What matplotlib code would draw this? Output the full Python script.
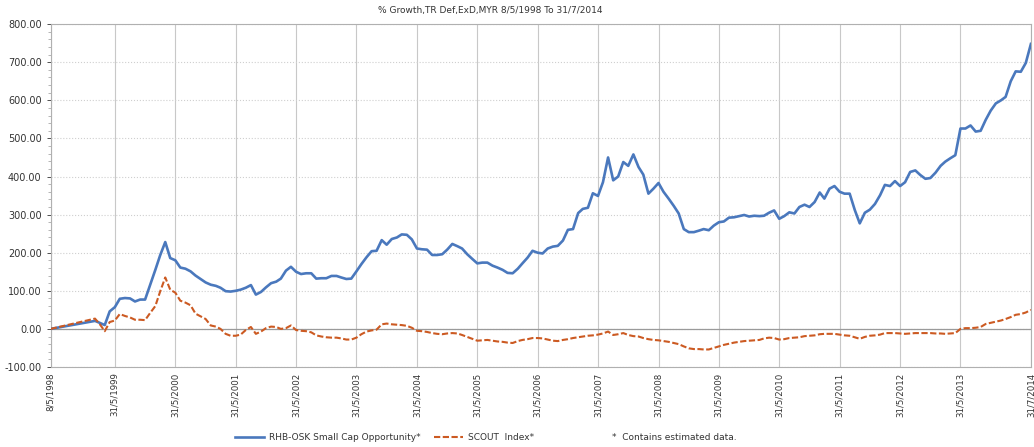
import matplotlib
matplotlib.use("Agg")
from matplotlib import pyplot as plt
import matplotlib.dates as mdates
from matplotlib.ticker import MultipleLocator, FormatStrFormatter
import pandas as pd

# first point 8/5/1998, then month ends Jan 1999 .. Jul 2014
start_date = "1998-05-08"
month_dates = pd.date_range("1999-01-31", "2014-07-31", freq="ME")

fund = [0,
        21, 16, 10, 46, 57, 79, 81, 80, 72, 77, 77, 116, 155, 193, 228, 186,
        180, 161, 158, 151, 140, 131, 122, 116, 113, 108, 99, 98, 100, 103, 108, 115,
        90, 97, 109, 120, 124, 132, 153, 163, 150, 144, 146, 146, 132, 133, 133, 139,
        139, 135, 131, 132, 151, 170, 188, 204, 205, 233, 221, 236, 240, 248, 247, 235,
        211, 209, 208, 194, 194, 196, 208, 223, 217, 211, 196, 184, 172, 174, 174, 166,
        161, 155, 147, 146, 158, 172, 187, 205, 200, 198, 211, 216, 218, 232, 260, 262,
        304, 315, 318, 356, 349, 385, 450, 390, 400, 438, 428, 458, 425, 405, 355, 368,
        383, 360, 342, 323, 303, 262, 254, 254, 258, 262, 259, 271, 280, 282, 292, 293,
        296, 299, 295, 297, 296, 297, 305, 311, 289, 296, 306, 303, 320, 326, 320, 333,
        358, 342, 368, 375, 360, 355, 355, 312, 277, 305, 313, 328, 351, 378, 375, 388,
        375, 385, 412, 416, 404, 394, 396, 410, 428, 439, 448, 456, 526, 526, 534, 518,
        520, 549, 573, 592, 600, 609, 650, 676, 675, 698, 748]

index = [0,
         27, 13, -6, 18, 22, 39, 34, 30, 24, 24, 23, 42, 60, 98, 135, 103,
         95, 74, 69, 62, 40, 33, 26, 9, 6, 0, -13, -18, -18, -15, -3, 5,
         -13, -7, 2, 6, 5, 0, 2, 9, -3, -5, -6, -9, -17, -20, -22, -23,
         -23, -25, -28, -28, -23, -14, -7, -4, -2, 12, 14, 12, 11, 10, 8, 3,
         -5, -6, -8, -11, -13, -14, -12, -11, -12, -16, -21, -26, -31, -30, -29, -31,
         -33, -34, -36, -37, -32, -29, -27, -24, -24, -25, -28, -31, -32, -29, -27, -24,
         -22, -20, -18, -17, -15, -12, -7, -16, -14, -11, -16, -19, -20, -24, -27, -29,
         -30, -32, -34, -37, -40, -46, -51, -53, -53, -54, -54, -50, -46, -42, -39, -36,
         -34, -32, -31, -30, -29, -25, -23, -24, -28, -27, -24, -23, -22, -19, -18, -17,
         -14, -13, -13, -13, -15, -17, -18, -22, -26, -21, -18, -17, -15, -11, -11, -11,
         -12, -13, -12, -11, -11, -11, -11, -12, -12, -13, -12, -11, 0, 2, 2, 3,
         5, 13, 16, 19, 22, 26, 31, 37, 39, 43, 50]

tick_dates = ["1998-05-08"] + ["%d-05-31" % y for y in range(1999, 2014)] + ["2014-07-31"]
tick_labels = ["8/5/1998"] + ["31/5/%d" % y for y in range(1999, 2014)] + ["31/7/2014"]

dates = pd.DatetimeIndex([pd.Timestamp(start_date)]).append(month_dates)

fig = plt.figure(figsize=(10.34, 4.47), dpi=100)
ax = fig.add_axes([0.049, 0.179, 0.948, 0.767])

ax.plot(dates, fund, color="#4a78bd", linewidth=1.9, label="RHB-OSK Small Cap Opportunity*", zorder=3)
ax.plot(dates, index, color="#cc5a22", linewidth=1.5, dashes=(3, 1.2),
        label="SCOUT  Index*", zorder=3)

ax.set_xlim(pd.Timestamp("1998-05-08"), pd.Timestamp("2014-07-31"))
ax.set_ylim(-100, 800)
ax.yaxis.set_major_locator(MultipleLocator(100))
ax.yaxis.set_minor_locator(MultipleLocator(20))
ax.yaxis.set_major_formatter(FormatStrFormatter("%.2f"))

ax.set_xticks(pd.to_datetime(tick_dates))
ax.set_xticklabels(tick_labels, rotation=90, fontsize=6.2, color="#333333",
                   family=["Liberation Sans Narrow", "DejaVu Sans"])
ax.tick_params(axis="y", labelsize=7, colors="#333333", length=3, width=0.6)
ax.tick_params(axis="y", which="minor", length=2, width=0.5, color="#999999")
ax.tick_params(axis="x", length=0, pad=4)

ax.grid(axis="y", color="#cfcfcf", linestyle=":", linewidth=0.8)
ax.grid(axis="x", color="#c8c8c8", linestyle="-", linewidth=0.8)
ax.axhline(0, color="#9a9a9a", linewidth=0.9, zorder=2)
for s in ax.spines.values():
    s.set_color("#b0b0b0")
    s.set_linewidth(0.8)

fig.text(0.474, 0.976, "% Growth,TR Def,ExD,MYR 8/5/1998 To 31/7/2014",
         ha="center", va="center", fontsize=6.5, color="#333333")

fig.legend(loc="center", bbox_to_anchor=(0.372, 0.022), ncol=2, frameon=False,
           fontsize=6.5, handlelength=3.2, columnspacing=1.5, handletextpad=0.6,
           labelcolor="#333333")
fig.text(0.592, 0.022, "*  Contains estimated data.", ha="left", va="center",
         fontsize=6.5, color="#333333")

fig.savefig("out.png", dpi=100)
